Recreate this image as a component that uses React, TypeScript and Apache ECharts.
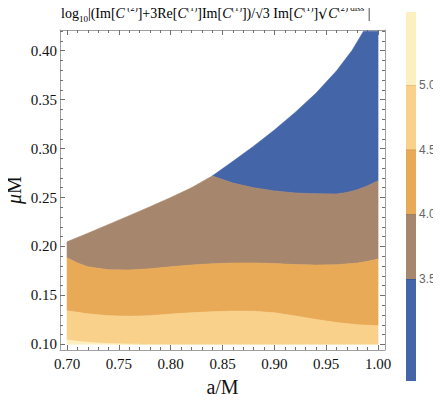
import React, { useEffect, useRef } from "react";
import * as echarts from "echarts";

// ---- tick labels ----
const xMajor = [0.7, 0.75, 0.8, 0.85, 0.9, 0.95, 1.0];
const yMajor = [0.1, 0.15, 0.2, 0.25, 0.3, 0.35, 0.4];
const barTicks = [3.5, 4.0, 4.5, 5.0];

// ---- colour bar levels (data range of the plotted function) ----
const barLevels = [2.711, 3.5, 4.0, 4.5, 5.0, 5.564];
const bandColors = ["#4565a9", "#a6866c", "#e9aa58", "#f9d18b", "#fdf0c0"];
const sepColors = ["#33487a", "#7a604c", "#b8843f", "#d7ae6c"];

// ---- domain: lower edge and upper (white) boundary ----
const yFloor = 0.1;
const upperA = [0.7, 0.72, 0.74, 0.76, 0.78, 0.8, 0.82, 0.84, 0.86, 0.88, 0.9, 0.92, 0.94, 0.96, 0.975, 0.986, 1.0];
const upperY = [0.2048, 0.2134, 0.2225, 0.2315, 0.2406, 0.25, 0.26, 0.272, 0.287, 0.3025, 0.319, 0.337, 0.3565, 0.3795, 0.4005, 0.42, 0.42];

// ---- contour lines ----
const c35A = [0.84, 0.86, 0.88, 0.9, 0.92, 0.94, 0.96, 0.97, 0.98, 0.99, 1.0];
const c35Y = [0.272, 0.2648, 0.26, 0.2568, 0.2547, 0.2538, 0.2537, 0.2552, 0.258, 0.262, 0.2672];

const c40A = [0.7, 0.71, 0.72, 0.74, 0.76, 0.78, 0.8, 0.82, 0.84, 0.86, 0.88, 0.9, 0.92, 0.94, 0.96, 0.98, 0.99, 1.0];
const c40Y = [0.1885, 0.1832, 0.1793, 0.1762, 0.176, 0.1772, 0.1792, 0.181, 0.1824, 0.1831, 0.1832, 0.1825, 0.1815, 0.181, 0.1813, 0.183, 0.1848, 0.1872];

const c45A = [0.7, 0.72, 0.74, 0.76, 0.78, 0.8, 0.82, 0.84, 0.86, 0.88, 0.9, 0.92, 0.94, 0.96, 0.98, 1.0];
const c45Y = [0.1343, 0.1312, 0.1292, 0.1287, 0.1293, 0.1309, 0.1323, 0.1333, 0.1339, 0.1338, 0.1322, 0.129, 0.1254, 0.1222, 0.12, 0.119];

const c50A = [0.7, 0.71, 0.725, 0.74, 0.755, 0.77];
const c50Y = [0.1045, 0.103, 0.1017, 0.1008, 0.1003, 0.1];

const pts = (A: number[], Y: number[]) => A.map((a, i) => [a, Y[i]]);

function buildBands() {
  const upper = pts(upperA, upperY);
  const c35 = pts(c35A, c35Y);
  const c40 = pts(c40A, c40Y);
  const c45 = pts(c45A, c45Y);
  const c50 = pts(c50A, c50Y);
  const corner = c35A[0];
  const blue = [...upper.filter((p) => p[0] >= corner), ...c35.slice().reverse()];
  const brown = [...upper.filter((p) => p[0] <= corner), ...c35.slice(1), ...c40.slice().reverse()];
  const orange = [...c40, ...c45.slice().reverse()];
  const lightBottom = [...c50, [c45A[c45A.length - 1], yFloor]];
  const light = [...c45, ...lightBottom.slice().reverse()];
  const cream = [...c50, [c50A[0], yFloor]];
  return [blue, brown, orange, light, cream];
}

function polySeries(points: number[][], color: string) {
  return {
    type: "custom",
    xAxisIndex: 0,
    yAxisIndex: 0,
    silent: true,
    data: [[points[0][0], points[0][1]]],
    renderItem: (_p: any, api: any) => ({
      type: "polygon",
      shape: { points: points.map((p) => api.coord(p)) },
      style: { fill: color, stroke: color, lineWidth: 0.6 },
    }),
  };
}

const serif = "Liberation Serif";
const frame = "#a0a0a0";
const tickCol = "#707070";

function range(a: number, b: number, step: number) {
  const out: number[] = [];
  for (let k = Math.round(a / step); k * step <= b + 1e-9; k++) out.push(+(k * step).toFixed(4));
  return out;
}
const xMinor = range(0.7, 1.0, 0.01);
const yMinor = range(0.1, 0.42, 0.01);

const X_MIN = 0.6932, X_MAX = 1.0067, Y_MIN = 0.0942, Y_MAX = 0.4212;

function xAxis(position: string, ticks: number[], len: number, labels: boolean, line: boolean, extra: any = {}) {
  return {
    type: "value", gridIndex: 0, position, min: X_MIN, max: X_MAX,
    axisLine: { show: line, onZero: false, lineStyle: { color: frame, width: 1 } },
    axisTick: { show: true, inside: true, length: len, customValues: ticks, lineStyle: { color: tickCol, width: 1 } },
    axisLabel: labels
      ? { show: true, customValues: ticks, formatter: (v: number) => v.toFixed(2), fontFamily: serif, fontSize: 15, color: "#111", margin: 6 }
      : { show: false },
    splitLine: { show: false }, minorTick: { show: false },
    ...extra,
  };
}
function yAxis(position: string, ticks: number[], len: number, labels: boolean, line: boolean, extra: any = {}) {
  return {
    type: "value", gridIndex: 0, position, min: Y_MIN, max: Y_MAX,
    axisLine: { show: line, onZero: false, lineStyle: { color: frame, width: 1 } },
    axisTick: { show: true, inside: true, length: len, customValues: ticks, lineStyle: { color: tickCol, width: 1 } },
    axisLabel: labels
      ? { show: true, customValues: ticks, formatter: (v: number) => v.toFixed(2), fontFamily: serif, fontSize: 15, color: "#111", margin: 3 }
      : { show: false },
    splitLine: { show: false }, minorTick: { show: false },
    ...extra,
  };
}

const titleText =
  "{n|log}{sub|10}{n||(Im[}{it|Ĉ}{sup| (2)}{n|]+3Re[}{it|C}{sup|(1)}{n|]Im[}{it|C}{sup|(1)}{n|])/√3 Im[}{it|C}{sup|(1)}{n|]}{rad|√}{it|C}{sup|(2) diss}{n| |}";

export default function App() {
  const ref = useRef<HTMLDivElement>(null);
  useEffect(() => {
    if (!ref.current) return;
    const chart = echarts.init(ref.current, null, { renderer: "svg" });
    const bands = buildBands();
    const option: any = {
      animation: false,
      backgroundColor: "#ffffff",
      grid: [
        { left: 60, right: 56, top: 30, bottom: 52, containLabel: false, outerBoundsMode: "none" },
        { left: 406, width: 10, top: 12, height: 369, containLabel: false, outerBoundsMode: "none" },
      ],
      xAxis: [
        xAxis("bottom", xMajor, 5, true, true, {
          name: "a/M", nameLocation: "middle", nameGap: 27,
          nameTextStyle: { fontFamily: serif, fontSize: 20, color: "#111" },
        }),
        xAxis("bottom", xMinor, 3, false, false),
        xAxis("top", xMajor, 5, false, true),
        xAxis("top", xMinor, 3, false, false),
        { type: "value", gridIndex: 1, min: 0, max: 1, show: false },
      ],
      yAxis: [
        yAxis("left", yMajor, 5, true, true, {
          name: "{i|μ}M", nameLocation: "middle", nameGap: 36, nameMoveOverlap: false,
          nameTextStyle: { fontFamily: serif, fontSize: 20, color: "#111", rich: { i: { fontFamily: serif, fontSize: 20, fontStyle: "italic", color: "#111" } } },
        }),
        yAxis("left", yMinor, 3, false, false),
        yAxis("right", yMajor, 5, false, true),
        yAxis("right", yMinor, 3, false, false),
        {
          type: "value", gridIndex: 1, position: "right", min: barLevels[0], max: barLevels[barLevels.length - 1],
          axisLine: { show: false },
          axisTick: { show: true, length: 3, customValues: barTicks, lineStyle: { color: "#999" } },
          axisLabel: { show: true, customValues: barTicks, formatter: (v: number) => v.toFixed(1), fontFamily: "Liberation Sans", fontSize: 12, color: "#666", margin: 3 },
          splitLine: { show: false },
        },
      ],
      graphic: [
        {
          type: "text", left: 61, top: 3, silent: true,
          style: {
            text: titleText,
            rich: {
              n: { fontFamily: serif, fontSize: 14, color: "#111", lineHeight: 20, verticalAlign: "middle" },
              it: { fontFamily: serif, fontSize: 14, fontStyle: "italic", color: "#111", lineHeight: 20, verticalAlign: "middle" },
              rad: { fontFamily: "DejaVu Serif", fontSize: 16, color: "#111", lineHeight: 20, verticalAlign: "middle" },
              sup: { fontFamily: serif, fontSize: 9, color: "#111", lineHeight: 11, verticalAlign: "top" },
              sub: { fontFamily: serif, fontSize: 9, color: "#111", lineHeight: 9, verticalAlign: "bottom" },
            },
          },
        },
        { type: "line", silent: true, shape: { x1: 340, y1: 5.5, x2: 384, y2: 5.5 }, style: { stroke: "#111", lineWidth: 0.8 } },
      ],
      series: [
        ...bands.map((b, i) => polySeries(b, bandColors[i])),
        {
          type: "custom", xAxisIndex: 4, yAxisIndex: 4, silent: true,
          data: bandColors.map((_c, i) => [i, barLevels[i]]),
          renderItem: (params: any, api: any) => {
            const i = params.dataIndex;
            const p0 = api.coord([0, barLevels[i]]);
            const p1 = api.coord([1, barLevels[i + 1]]);
            const children: any[] = [
              { type: "rect", shape: { x: p0[0], y: p1[1], width: p1[0] - p0[0], height: p0[1] - p1[1] }, style: { fill: bandColors[i] } },
            ];
            if (i < sepColors.length) {
              children.push({ type: "line", shape: { x1: p0[0], y1: p1[1], x2: p1[0], y2: p1[1] }, style: { stroke: sepColors[i], lineWidth: 1 } });
            }
            return { type: "group", children };
          },
        },
      ],
    };
    chart.setOption(option);
    return () => chart.dispose();
  }, []);
  return <div ref={ref} style={{ width: 441, height: 402, margin: -8 }} />;
}
